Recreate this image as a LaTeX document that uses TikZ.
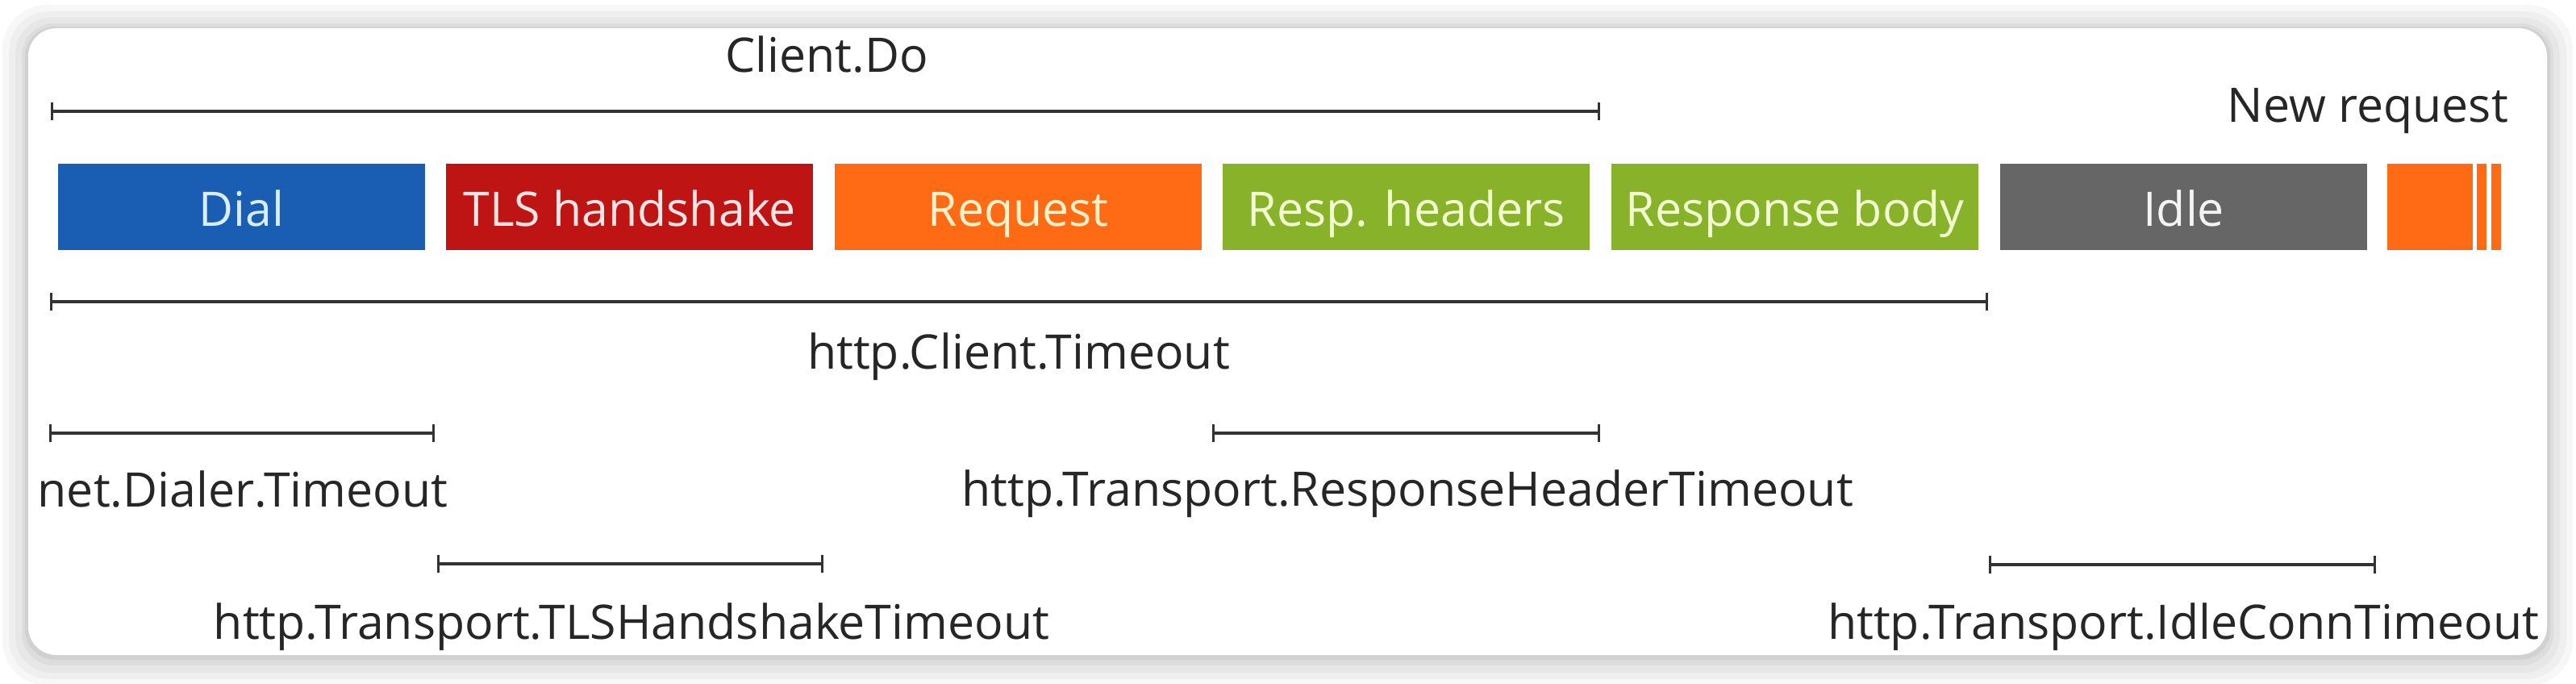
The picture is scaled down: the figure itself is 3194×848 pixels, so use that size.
\documentclass[tikz,border=0pt]{standalone}
\usepackage{fontspec}
\setmainfont{Open Sans}
\usepackage{tikz}
\usetikzlibrary{positioning}
\usetikzlibrary{arrows.meta}
\definecolor{dialblue}{HTML}{1A5EB4}
\definecolor{tlsred}{HTML}{BE1414}
\definecolor{reqorange}{HTML}{FF6A14}
\definecolor{respgreen}{HTML}{88B22A}
\definecolor{idlegrey}{HTML}{666666}
\definecolor{dialtext}{HTML}{D8EEFF}
\definecolor{tlstext}{HTML}{FFE4E4}
\definecolor{reqtext}{HTML}{FFF2C8}
\definecolor{resptext}{HTML}{F2FFD0}
\definecolor{idletext}{HTML}{F4F4F4}
\definecolor{spanink}{HTML}{333333}
\definecolor{labelink}{HTML}{262626}

\begin{document}
\begin{tikzpicture}
  [
    x=1pt, y=-1pt,
    phase/.style={minimum width=455pt, minimum height=107pt,
      inner sep=0pt, text height=47pt, text depth=0pt, anchor=west,
      font=\fontsize{59}{70}\selectfont},
    lbl/.style={font=\fontsize{59}{70}\selectfont, text=labelink,
      anchor=base, inner sep=0pt},
    span/.style={draw=spanink, line width=4pt,
      {Bar[width=22pt,line width=3pt]}-{Bar[width=22pt,line width=3pt]}}
  ]
  \useasboundingbox (0,0) rectangle (3194,848);
  \fill [white] (0,0) rectangle (3194,848);

  % card and its shadow
  \fill [black, opacity=0.03, rounded corners=55pt] (3,6) rectangle (3190,850);
  \fill [black, opacity=0.03, rounded corners=50pt] (11,14) rectangle (3182,842);
  \fill [black, opacity=0.03, rounded corners=45pt] (19,22) rectangle (3174,834);
  \fill [black, opacity=0.04, rounded corners=40pt] (27,29) rectangle (3166,825);
  \fill [black, opacity=0.05, rounded corners=37pt] (31,33) rectangle (3162,818);
  \fill [white, rounded corners=35pt] (35,35) rectangle (3158,812);

  \node (dial)  at (72,256.5)   [phase, fill=dialblue, text=dialtext] {Dial};
  \node (tls)   at (553,256.5)  [phase, fill=tlsred, text=tlstext] {TLS handshake};
  \node (req)   at (1035,256.5) [phase, fill=reqorange, text=reqtext] {Request};
  \node (resph) at (1516,256.5) [phase, fill=respgreen, text=resptext] {Resp. headers};
  \node (body)  at (1998,256.5) [phase, fill=respgreen, text=resptext] {Response body};
  \node (idle)  at (2480,256.5) [phase, fill=idlegrey, text=idletext] {Idle};

  \node (nxt)  at (2960,256.5) [phase, fill=reqorange, minimum width=106pt] {};
  \node (nxtA) at (3071,256.5) [phase, fill=reqorange, minimum width=12pt] {};
  \node (nxtB) at (3089,256.5) [phase, fill=reqorange, minimum width=12pt] {};

  \node (doLbl)  at (1025,90) [lbl] {Client.Do};
  \node (newLbl) at (3110,152) [lbl, anchor=base east] {New request};
  \node (ctoLbl) at (1263,457) [lbl] {http.Client.Timeout};
  \node (dtoLbl) at (301,628)  [lbl] {net.Dialer.Timeout};
  \node (rhtLbl) at (1745,627) [lbl] {http.Transport.ResponseHeaderTimeout};
  \node (tlsLbl) at (783,792)  [lbl] {http.Transport.TLSHandshakeTimeout};
  \node (ictLbl) at (2707,792) [lbl] {http.Transport.IdleConnTimeout};

  \coordinate (doL)  at (63,138);   \coordinate (doR)  at (1984,138);
  \coordinate (ctoL) at (62,374);   \coordinate (ctoR) at (2465,374);
  \coordinate (dtoL) at (61,537);   \coordinate (dtoR) at (539,537);
  \coordinate (rhtL) at (1503,537); \coordinate (rhtR) at (1984,537);
  \coordinate (tlsL) at (542,699);  \coordinate (tlsR) at (1021,699);
  \coordinate (ictL) at (2466,700); \coordinate (ictR) at (2946,700);

  \draw [span] (doL) -- (doR);
  \draw [span] (ctoL) -- (ctoR);
  \draw [span] (dtoL) -- (dtoR);
  \draw [span] (rhtL) -- (rhtR);
  \draw [span] (tlsL) -- (tlsR);
  \draw [span] (ictL) -- (ictR);
\end{tikzpicture}
\end{document}
